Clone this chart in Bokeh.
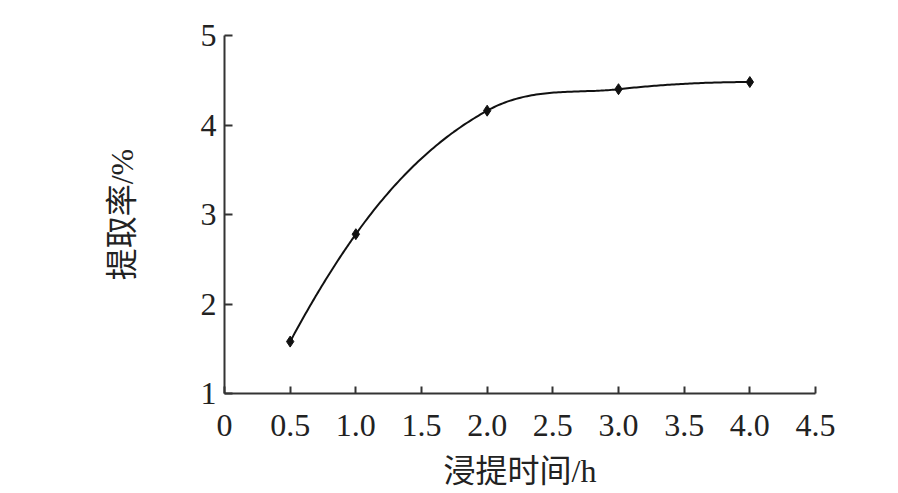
import numpy as np
from bokeh.plotting import figure
from bokeh.models import FixedTicker, ColumnDataSource
from bokeh.embed import file_html
from bokeh.resources import INLINE

# Data
hours = [0.5, 1.0, 2.0, 3.0, 4.0]
rate = [1.58, 2.78, 4.16, 4.40, 4.48]
x_ticks = [0, 0.5, 1.0, 1.5, 2.0, 2.5, 3.0, 3.5, 4.0, 4.5]
x_tick_labels = ["0", "0.5", "1.0", "1.5", "2.0", "2.5", "3.0", "3.5", "4.0", "4.5"]
y_ticks = [1, 2, 3, 4, 5]
x_title = "浸提时间/h"
y_title = "提取率/%"

# Smooth rendering of the line through the data (cubic Hermite, Bessel tangents)
xs = np.array(hours, dtype=float)
ys = np.array(rate, dtype=float)
n = len(xs)
hseg = np.diff(xs)
d = np.diff(ys) / hseg
m = np.zeros(n)
m[0] = d[0] + (d[0] - d[1]) * hseg[0] / (hseg[0] + hseg[1])
m[-1] = d[-1] + (d[-1] - d[-2]) * hseg[-1] / (hseg[-1] + hseg[-2])
for i in range(1, n - 1):
    m[i] = (hseg[i] * d[i - 1] + hseg[i - 1] * d[i]) / (hseg[i - 1] + hseg[i])
cx, cy = [], []
for i in range(n - 1):
    h = xs[i + 1] - xs[i]
    t = np.linspace(0, 1, 60)
    h00 = 2 * t**3 - 3 * t**2 + 1
    h10 = t**3 - 2 * t**2 + t
    h01 = -2 * t**3 + 3 * t**2
    h11 = t**3 - t**2
    cx.extend(xs[i] + t * h)
    cy.extend(h00 * ys[i] + h10 * h * m[i] + h01 * ys[i + 1] + h11 * h * m[i + 1])

serif = "Liberation Serif, Noto Sans CJK SC"

p = figure(width=890, height=485, output_backend="svg", toolbar_location=None,
           x_range=(0, 4.5), y_range=(1, 5),
           min_border_left=224, min_border_right=75, min_border_top=35, min_border_bottom=92)
p.frame_width = 591
p.frame_height = 358
p.outline_line_color = None
p.grid.grid_line_color = None
p.background_fill_color = "white"
p.border_fill_color = "white"

p.line(cx, cy, line_color="#111111", line_width=2)
src = ColumnDataSource(dict(x=hours, y=rate))
p.scatter("x", "y", source=src, marker="diamond", size=11, fill_color="#111111", line_color="#111111")

for ax in (p.xaxis[0], p.yaxis[0]):
    ax.axis_line_color = "#333333"
    ax.axis_line_width = 2
    ax.major_tick_line_color = "#333333"
    ax.major_tick_line_width = 2
    ax.major_tick_out = 0
    ax.minor_tick_line_color = None
    ax.major_label_text_font = serif
    ax.major_label_text_font_size = "32px"
    ax.major_label_text_color = "#222222"
    ax.axis_label_text_font = serif
    ax.axis_label_text_font_size = "32px"
    ax.axis_label_text_font_style = "normal"
    ax.axis_label_text_color = "#222222"

p.xaxis.ticker = FixedTicker(ticks=x_ticks)
p.xaxis.major_label_overrides = {t: l for t, l in zip(x_ticks, x_tick_labels)}
p.xaxis.major_tick_in = 7
p.xaxis.major_label_standoff = 21
p.xaxis.axis_label = x_title
p.xaxis.axis_label_standoff = 14

p.yaxis.ticker = FixedTicker(ticks=y_ticks)
p.yaxis.major_tick_in = 8
p.yaxis.major_label_standoff = 8
p.yaxis.major_label_orientation = "horizontal"
p.yaxis.axis_label = y_title
p.yaxis.axis_label_standoff = 58

open("out.html", "w").write(file_html(p, INLINE))
